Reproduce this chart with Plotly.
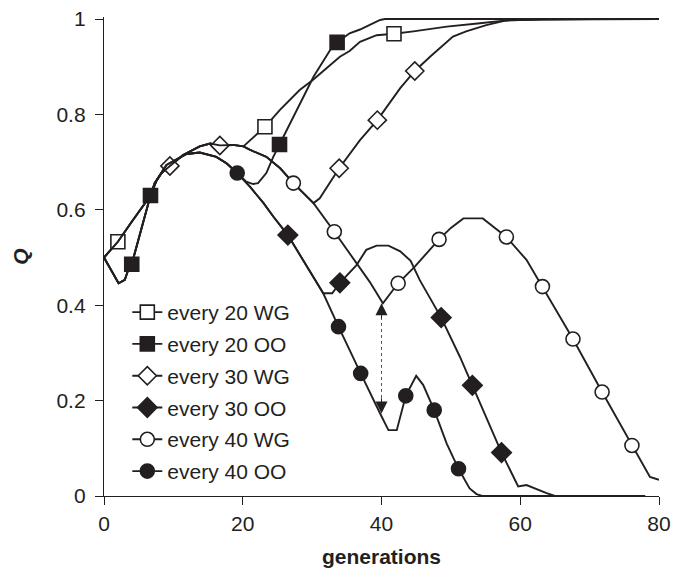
import plotly.graph_objects as go

# ---------------- data ----------------
G_20WG = [0, 2, 4, 6.7, 7.3, 8.3, 9.5, 11.4, 13.8, 15.3, 16.7, 18.6, 20.1, 23.2, 25.4, 28.2,
          30.1, 34, 35.4, 36.9, 39.3, 41.8, 44.6, 49.4, 54.2, 58, 63, 70, 80]
Q_20WG = [0.50, 0.533, 0.575, 0.63, 0.656, 0.677, 0.692, 0.715, 0.733, 0.739, 0.735, 0.736, 0.733,
          0.774, 0.81, 0.851, 0.872, 0.921, 0.933, 0.952, 0.966, 0.969, 0.974, 0.984, 0.991, 0.997,
          0.999, 1.0, 1.0]
M_20WG = [2, 23.2, 41.8]

G_20OO = [0, 2.1, 3, 3.4, 4, 6.7, 7.6, 9, 11.9, 13.8, 16.2, 17.7, 19.2, 20.5, 21.5, 22.2, 23.4,
          24.4, 25.3, 28.2, 30.2, 32.6, 33.6, 35.4, 36.9, 39.8, 40.5, 80]
Q_20OO = [0.50, 0.446, 0.453, 0.47, 0.486, 0.63, 0.662, 0.694, 0.717, 0.72, 0.711, 0.697, 0.677,
          0.659, 0.654, 0.656, 0.677, 0.711, 0.737, 0.823, 0.879, 0.935, 0.951, 0.97, 0.978, 0.998,
          1.0, 1.0]
M_20OO = [4, 6.7, 25.3, 33.6]

G_30WG = [0, 2, 4, 6.7, 7.3, 8.3, 9.5, 11.4, 13.8, 15.3, 16.7, 18.6, 20.1, 21, 23.4, 25.4, 27.3,
          30.2, 31.1, 32.5, 33.9, 36.9, 39.4, 42.7, 44.8, 47, 50.3, 52.2, 55.1, 58, 63, 70, 80]
Q_30WG = [0.50, 0.533, 0.575, 0.63, 0.656, 0.677, 0.692, 0.715, 0.733, 0.739, 0.735, 0.736, 0.733,
          0.726, 0.711, 0.687, 0.656, 0.614, 0.624, 0.655, 0.687, 0.746, 0.788, 0.855, 0.891, 0.921,
          0.963, 0.974, 0.987, 0.997, 0.999, 1.0, 1.0]
M_30WG = [9.5, 16.7, 33.9, 39.4, 44.8]

G_30OO = [0, 2.1, 3, 3.4, 4, 6.7, 7.6, 9, 11.9, 13.8, 16.2, 17.7, 19.2, 20.2, 21, 23, 24.4, 26.5,
          29.2, 31.6, 32.9, 34, 36.4, 37.8, 39.3, 41, 42.7, 44.2, 45.5, 47.4, 48.6, 51.3, 53.1, 55.1,
          57.3, 59.7, 60.9, 63.8, 65, 78]
Q_30OO = [0.50, 0.446, 0.453, 0.47, 0.486, 0.63, 0.662, 0.694, 0.717, 0.72, 0.711, 0.697, 0.677,
          0.662, 0.649, 0.614, 0.586, 0.547, 0.481, 0.425, 0.425, 0.447, 0.484, 0.516, 0.525, 0.525,
          0.513, 0.493, 0.453, 0.404, 0.374, 0.292, 0.232, 0.166, 0.091, 0.02, 0.023, 0.006, 0.0, 0.0]
M_30OO = [26.5, 34, 48.6, 53.1, 57.3]

G_40WG = [0, 2, 4, 6.7, 7.3, 8.3, 9.5, 11.4, 13.8, 15.3, 16.7, 18.6, 20.1, 21, 23.4, 25.4, 27.3,
          30.2, 33.2, 36.4, 38.3, 40.2, 42.4, 44.8, 48.3, 50, 51.8, 54.6, 56.1, 58, 60.9, 63.2, 67.6,
          71.8, 76.1, 78.7, 80]
Q_40WG = [0.50, 0.533, 0.575, 0.63, 0.656, 0.677, 0.692, 0.715, 0.733, 0.739, 0.735, 0.736, 0.733,
          0.726, 0.711, 0.687, 0.656, 0.614, 0.554, 0.488, 0.449, 0.404, 0.446, 0.481, 0.538, 0.562,
          0.582, 0.582, 0.565, 0.543, 0.495, 0.439, 0.329, 0.218, 0.106, 0.040, 0.034]
M_40WG = [27.3, 33.2, 42.4, 48.3, 58, 63.2, 67.6, 71.8, 76.1]

G_40OO = [0, 2.1, 3, 3.4, 4, 6.7, 7.6, 9, 11.9, 13.8, 16.2, 17.7, 19.2, 20.2, 21, 23, 24.4, 26.5,
          29.2, 31.6, 33.8, 35.5, 37, 39.8, 41, 42.2, 43.5, 45, 46, 47.6, 49.4, 51.1, 52.7, 53.7,
          54.5, 78]
Q_40OO = [0.50, 0.446, 0.453, 0.47, 0.486, 0.63, 0.662, 0.694, 0.717, 0.72, 0.711, 0.697, 0.677,
          0.662, 0.649, 0.614, 0.586, 0.547, 0.481, 0.425, 0.355, 0.302, 0.257, 0.173, 0.138, 0.138,
          0.21, 0.252, 0.233, 0.18, 0.11, 0.057, 0.016, 0.004, 0.0, 0.0]
M_40OO = [19.2, 33.8, 37, 43.5, 47.6, 51.1]

NAMES = ["every 20 WG", "every 20 OO", "every 30 WG", "every 30 OO", "every 40 WG", "every 40 OO"]
X_TICKS = [0, 20, 40, 60, 80]
Y_TICKS = [0, 0.2, 0.4, 0.6, 0.8, 1]
Y_TICKTEXT = ["0", "0.2", "0.4", "0.6", "0.8", "1"]
ARROW_GEN = 40
ARROW_TOP = 0.404
ARROW_BOTTOM = 0.173

# ---------------- styling ----------------
INK = "#231f20"
FONT = "Liberation Sans, Arial, Helvetica, sans-serif"
series = [
    (G_20WG, Q_20WG, M_20WG, "square", False, 14),
    (G_20OO, Q_20OO, M_20OO, "square", True, 14),
    (G_30WG, Q_30WG, M_30WG, "diamond", False, 14),
    (G_30OO, Q_30OO, M_30OO, "diamond", True, 15),
    (G_40WG, Q_40WG, M_40WG, "circle", False, 14),
    (G_40OO, Q_40OO, M_40OO, "circle", True, 14),
]

fig = go.Figure()
for name, (g, q, mg, sym, filled, size) in zip(NAMES, series):
    lookup = dict(zip(g, q))
    mq = [lookup[m] for m in mg]
    marker = dict(symbol=sym, size=size, color=INK if filled else "white",
                  line=dict(color=INK, width=1.6))
    fig.add_trace(go.Scatter(x=g, y=q, mode="lines", line=dict(color=INK, width=1.9),
                             showlegend=False, legendgroup=name, hoverinfo="skip"))
    fig.add_trace(go.Scatter(x=mg, y=mq, mode="markers", marker=marker,
                             showlegend=False, legendgroup=name, cliponaxis=False))
    fig.add_trace(go.Scatter(x=[None], y=[None], mode="lines+markers", name=name,
                             line=dict(color=INK, width=1.9), marker=marker, legendgroup=name))

# dotted double arrow
fig.add_shape(type="line", x0=ARROW_GEN, x1=ARROW_GEN, y0=ARROW_BOTTOM + 0.02, y1=ARROW_TOP - 0.02,
              xref="x", yref="y", line=dict(color="#555555", width=1, dash="dot"))
for tip, tail in [(ARROW_TOP, ARROW_TOP - 0.035), (ARROW_BOTTOM, ARROW_BOTTOM + 0.035)]:
    fig.add_annotation(x=ARROW_GEN, y=tip, ax=ARROW_GEN, ay=tail, axref="x", ayref="y",
                       xref="x", yref="y", text="", showarrow=True, arrowhead=2,
                       arrowsize=2.4, arrowwidth=1, arrowcolor=INK)

fig.update_layout(
    width=687, height=571, autosize=False,
    margin=dict(l=104, r=28, t=17, b=75, pad=0, autoexpand=False),
    paper_bgcolor="white", plot_bgcolor="white",
    font=dict(family=FONT, size=21, color=INK),
    showlegend=True,
    legend=dict(x=0.042, y=0.426, xanchor="left", yanchor="top",
                bgcolor="rgba(0,0,0,0)", font=dict(size=21), tracegroupgap=1.5),
    xaxis=dict(range=[0, 80], tickvals=X_TICKS, showgrid=False, zeroline=False, automargin=False,
               showline=True, linecolor=INK, linewidth=1.3, ticks="outside", ticklen=8,
               tickwidth=1.3, tickcolor=INK, ticklabelstandoff=1,
               title=dict(text="<b>generations</b>", standoff=14, font=dict(size=21))),
    yaxis=dict(range=[0, 1.0042], tickvals=Y_TICKS, ticktext=Y_TICKTEXT, showgrid=False,
               zeroline=False, automargin=False, showline=True, linecolor=INK, linewidth=1.3,
               ticks="outside", ticklen=8, tickwidth=1.3, tickcolor=INK, ticklabelstandoff=5,
               title=dict(text="<b><i>Q</i></b>", standoff=22, font=dict(size=21))),
)

fig.write_html("out.html", config={"displayModeBar": False},
               post_script="document.body.style.margin='0px';")
